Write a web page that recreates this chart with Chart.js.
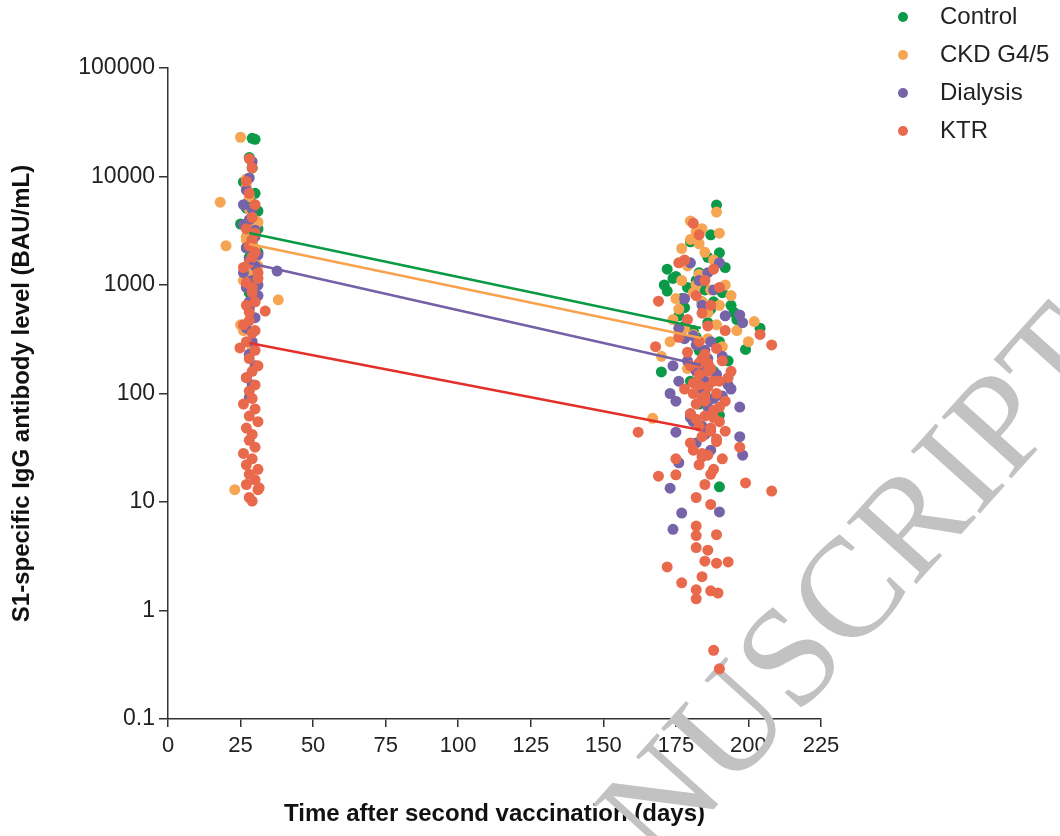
<!DOCTYPE html>
<html>
<head>
<meta charset="utf-8">
<title>S1-specific IgG after second vaccination</title>
<script src="https://cdn.jsdelivr.net/npm/chart.js@4.4.1/dist/chart.umd.min.js"></script>
<style>
  html, body { margin: 0; padding: 0; background: #fff; }
  #wrap { width: 1060px; height: 836px; position: relative; }
</style>
</head>
<body>
<div id="wrap"><canvas id="chart-igg" width="1060" height="836"></canvas></div>
<script>
// Antibody levels (BAU/mL) per cohort, both visits (~day 28 and ~day 184)
const controlDays = [29, 30, 28, 27, 26, 27, 25, 28, 29, 30, 28, 29, 31, 28, 30, 29, 27, 31, 30, 28, 29, 30, 28, 29, 27, 31, 28, 29,
  189, 180, 190, 186, 172, 192, 171, 174, 172, 183, 185, 188, 178, 176, 195, 204, 199, 170, 186, 181, 190, 183, 193, 188, 180, 185, 190, 177, 194, 196, 182, 187, 190, 183,
  175, 179, 184, 187, 191, 178, 182, 186];
const controlIgG = [22500, 22000, 15000, 9300, 8900, 5100, 3650, 6200, 4300, 3100, 2700, 2400, 2000, 1800, 1500, 1250, 1100, 4800, 7000, 3400, 2900, 1000, 850, 12000, 2200, 3300, 640, 5600,
  5460, 2500, 1980, 1800, 1400, 1450, 1000, 1150, 880, 1300, 900, 700, 620, 520, 560, 400, 255, 158, 450, 380, 300, 250, 200, 160, 130, 100, 13.8, 750, 650, 480, 1100, 2900, 63, 80,
  1200, 950, 700, 600, 850, 420, 330, 560];

const ckdDays = [25, 18, 20, 38, 23, 25, 27, 28, 29, 30, 28, 27, 30, 29, 31, 28, 26, 29, 30, 27, 31, 28, 29, 26, 30, 27, 29, 28,
  189, 180, 184, 182, 190, 180, 177, 185, 188, 179, 183, 192, 202, 200, 176, 174, 178, 181, 186, 191, 170, 185, 188, 167, 183, 194, 187, 173, 196, 184, 182, 179,
  177, 181, 186, 189, 175, 183, 190];
const ckdIgG = [23000, 5800, 2300, 730, 13, 430, 8000, 6500, 4200, 3500, 3000, 2600, 2100, 1800, 1500, 1300, 1100, 900, 700, 2800, 3800, 5000, 270, 380, 1700, 9500, 2500, 1200,
  4700, 3890, 3300, 3100, 3000, 2630, 2170, 2000, 1700, 1500, 1250, 1000, 460, 300, 600, 480, 400, 350, 320, 270, 220, 200, 150, 59, 120, 800, 900, 300, 380, 700, 1000, 170,
  1100, 850, 560, 430, 750, 2400, 650];

const dialysisDays = [29, 28, 27, 26, 28, 30, 29, 27, 31, 26, 37.6, 28, 30, 29, 27, 31, 28, 30, 27, 29, 28, 30, 27, 28, 29, 30, 26, 29, 31, 28,
  180, 190, 186, 183, 188, 178, 184, 197, 198, 192, 176, 181, 187, 185, 191, 174, 182, 189, 193, 173, 175, 186, 197, 180, 184, 175, 197, 198, 176, 173, 177, 174, 190, 182, 187, 191, 179, 194,
  183, 185, 188, 180, 186, 178, 182, 186, 189, 176, 184, 188, 181, 185];
const dialysisIgG = [13700, 9700, 7500, 5500, 4000, 3200, 2600, 2200, 1900, 1300, 1345, 1700, 1500, 1100, 950, 800, 600, 500, 400, 300, 230, 180, 140, 92, 120, 2800, 3600, 5000, 1000, 700,
  1600, 1600, 1300, 1100, 900, 750, 650, 530, 450, 520, 400, 340, 300, 250, 220, 180, 160, 140, 120, 100, 85, 75, 75, 60, 50, 44, 40, 27, 23, 13.4, 7.9, 5.6, 8.1, 35, 30, 95, 200, 110,
  170, 130, 90, 65, 210, 320, 280, 190, 150, 130, 110, 70, 55, 42];

const ktrDays = [28, 29, 27, 28, 30, 29, 27, 29, 30, 28, 31, 27, 29, 33.5, 30, 28, 26, 29, 24.8, 27, 30, 28, 31, 29, 27, 30, 28, 29, 26, 30,
  28, 31, 27, 29, 28, 30, 26, 29, 27, 31, 28, 30, 27, 31.4, 31, 28, 29, 30, 28, 27, 29, 31, 26, 30, 28, 29,
  181, 183, 178, 176, 188, 185, 190, 169, 182, 187, 184, 179, 186, 192, 204, 208, 168, 183, 189, 185, 191, 180, 187, 183, 193, 181, 186, 189, 184, 182,
  188, 185, 190, 183, 187, 162, 184, 189, 197, 181, 186, 191, 175, 183, 188, 169, 175, 199, 185, 208, 182, 187, 182, 182, 182, 189, 186, 172, 185, 189,
  193, 184, 177, 182, 182, 187, 189.5, 188, 190, 180, 178, 192, 194,
  184, 186, 188, 183, 185, 190, 182, 187, 189, 184,
  176, 179, 183, 186, 190, 181, 185, 188, 192, 180, 184, 187];
const ktrIgG = [14600, 12000, 9000, 7000, 5500, 4200, 3300, 2600, 2000, 1600, 1300, 1050, 850, 575, 700, 560, 430, 360, 263, 300, 250, 210, 180, 160, 140, 120, 105, 90, 80, 72,
  62, 55, 48, 42, 37, 32, 28, 25, 22, 20, 18, 16, 14.5, 13.5, 13, 11, 10.2, 380, 470, 650, 950, 1150, 1450, 3000, 2300, 1800,
  3700, 2900, 1700, 1600, 1400, 1100, 950, 710, 800, 650, 550, 480, 420, 380, 350, 280, 270, 300, 260, 230, 200, 180, 170, 150, 140, 125, 115, 100, 90, 80,
  70, 62, 55, 50, 45, 44, 40, 36, 32, 30, 27, 25, 25, 22, 20, 17.3, 17.8, 15, 14.5, 12.6, 11, 9.5, 6.0, 4.9, 3.8, 5.0, 3.6, 2.52, 2.85, 2.73,
  2.8, 2.05, 1.8, 1.55, 1.28, 1.52, 1.45, 0.43, 0.29, 65, 110, 85, 160,
  210, 190, 130, 120, 95, 75, 58, 48, 38, 28,
  330, 240, 190, 160, 130, 100, 85, 60, 45, 35, 26, 18];

// Log-linear regression lines, from first to second visit
const fitDays = [28, 183.6];
const controlFit = [3016, 402];
const ckdFit = [2390, 325];
const dialysisFit = [1597, 183];
const ktrFit = [292, 46];

const xTickStep = 25;
const yTicks = [0.1, 1, 10, 100, 1000, 10000, 100000];
const yTickLabels = ["0.1", "1", "10", "100", "1000", "10000", "100000"];

const GROUPS = [
  { label: "Control", days: controlDays, igg: controlIgG, fit: controlFit, dot: "#0a9a48", line: "#0a9a44" },
  { label: "CKD G4/5", days: ckdDays, igg: ckdIgG, fit: ckdFit, dot: "#f6a553", line: "#f7a34d" },
  { label: "Dialysis", days: dialysisDays, igg: dialysisIgG, fit: dialysisFit, dot: "#7663a8", line: "#7360a6" },
  { label: "KTR", days: ktrDays, igg: ktrIgG, fit: ktrFit, dot: "#e8694b", line: "#e4302b" }
];

const toPoints = (xs, ys) => xs.map((x, i) => ({ x: x, y: ys[i] }));

const scatterSets = GROUPS.map((g, i) => ({
  label: g.label,
  data: toPoints(g.days, g.igg),
  backgroundColor: g.dot,
  borderWidth: 0,
  pointRadius: 5.5,
  inLegend: true,
  order: GROUPS.length - i + 1
}));

const fitSets = GROUPS.map(g => ({
  label: g.label + " fit",
  data: toPoints(fitDays, g.fit),
  showLine: true,
  borderColor: g.line,
  borderWidth: 2.5,
  pointRadius: 0,
  order: 0
}));

// Legend column in the top right corner
const legendBox = {
  id: "legendBox",
  afterDraw(chart) {
    const ctx = chart.ctx;
    ctx.save();
    ctx.font = "24px 'Liberation Sans', Arial, sans-serif";
    ctx.textBaseline = "middle";
    chart.data.datasets.filter(ds => ds.inLegend).forEach((ds, i) => {
      const y = 17 + i * 38;
      ctx.fillStyle = ds.backgroundColor;
      ctx.beginPath();
      ctx.arc(903, y, 5, 0, Math.PI * 2);
      ctx.fill();
      ctx.fillStyle = "#222";
      ctx.fillText(ds.label, 940, y);
    });
    ctx.restore();
  }
};

// Grey diagonal stamp behind the dots
const watermark = {
  id: "watermark",
  beforeDatasetsDraw(chart) {
    const ctx = chart.ctx;
    ctx.save();
    ctx.translate(1119, 359);
    ctx.rotate(-48 * Math.PI / 180);
    ctx.font = "142px 'Liberation Serif', 'Times New Roman', serif";
    ctx.fillStyle = "#c2c2c2";
    ctx.textAlign = "right";
    ctx.textBaseline = "alphabetic";
    ctx.fillText("ACCEPTED MANUSCRIPT", 0, 0);
    ctx.restore();
  }
};

Chart.defaults.font.family = "'Liberation Sans', Arial, sans-serif";
Chart.defaults.color = "#222";

new Chart(document.getElementById("chart-igg"), {
  type: "scatter",
  data: { datasets: [...fitSets, ...scatterSets] },
  options: {
    responsive: false,
    devicePixelRatio: 1,
    animation: false,
    layout: { padding: { top: 68, right: 239, left: 0, bottom: 0 } },
    plugins: {
      legend: { display: false },
      tooltip: { enabled: false }
    },
    scales: {
      x: {
        type: "linear",
        min: 0,
        max: 225,
        afterFit: s => { s.height = 117; },
        ticks: { stepSize: xTickStep, padding: 6, font: { size: 22 }, color: "#222" },
        grid: { drawOnChartArea: false, drawTicks: true, tickLength: 8, color: "#333", lineWidth: 1.5 },
        border: { display: true, color: "#333", width: 1.5 },
        title: {
          display: true,
          text: "Time after second vaccination (days)",
          font: { size: 24, weight: "bold" },
          color: "#111",
          padding: { top: 0, bottom: 7 }
        }
      },
      y: {
        type: "logarithmic",
        min: 0.1,
        max: 100000,
        afterFit: s => { s.width = 168; },
        afterBuildTicks: s => { s.ticks = yTicks.map(v => ({ value: v })); },
        ticks: {
          callback: (v, i) => yTickLabels[i],
          padding: 4,
          font: { size: 23 },
          color: "#222"
        },
        grid: { drawOnChartArea: false, drawTicks: true, tickLength: 9, color: "#333", lineWidth: 1.5 },
        border: { display: true, color: "#333", width: 1.5 },
        title: {
          display: true,
          text: "S1-specific IgG antibody level (BAU/mL)",
          font: { size: 24, weight: "bold" },
          color: "#111",
          padding: { top: 8, bottom: 0 }
        }
      }
    }
  },
  plugins: [watermark, legendBox]
});
</script>
</body>
</html>
